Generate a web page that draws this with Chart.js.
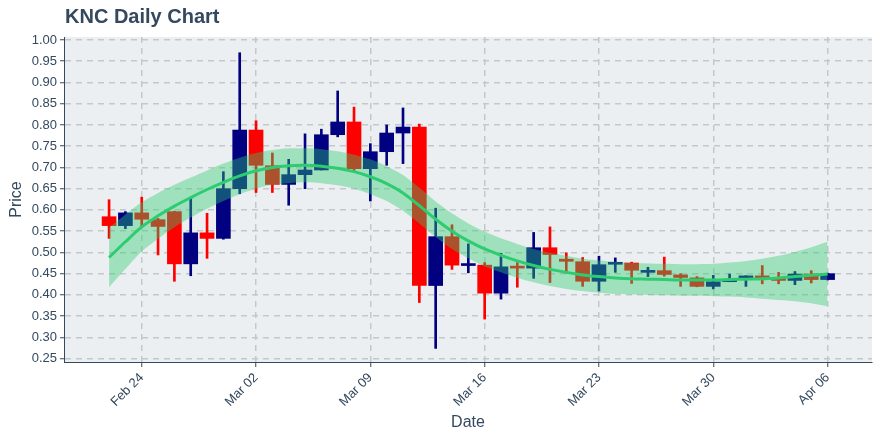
<!DOCTYPE html>
<html>
<head>
<meta charset="utf-8">
<script src="https://cdn.jsdelivr.net/npm/chart.js@4.4.1/dist/chart.umd.min.js"></script>
<style>
html,body{margin:0;padding:0;background:#fff;}
#wrap{width:880px;height:440px;}
</style>
</head>
<body>
<div id="wrap"><canvas id="c" width="880" height="440"></canvas></div>
<script>
const chartTitle = 'KNC Daily Chart';
const dates = ['2020-02-22','2020-02-23','2020-02-24','2020-02-25','2020-02-26','2020-02-27','2020-02-28','2020-02-29',
  '2020-03-01','2020-03-02','2020-03-03','2020-03-04','2020-03-05','2020-03-06','2020-03-07','2020-03-08','2020-03-09','2020-03-10',
  '2020-03-11','2020-03-12','2020-03-13','2020-03-14','2020-03-15','2020-03-16','2020-03-17','2020-03-18','2020-03-19','2020-03-20',
  '2020-03-21','2020-03-22','2020-03-23','2020-03-24','2020-03-25','2020-03-26','2020-03-27','2020-03-28','2020-03-29','2020-03-30',
  '2020-03-31','2020-04-01','2020-04-02','2020-04-03','2020-04-04','2020-04-05','2020-04-06'];
const openP  = [0.584,0.563,0.593,0.577,0.596,0.473,0.546,0.533,0.650,0.788,0.704,0.660,0.683,0.694,0.777,0.807,0.697,0.737,0.781,0.795,0.422,0.537,0.469,0.470,0.404,0.467,0.463,0.511,0.484,0.478,0.432,0.472,0.475,0.453,0.457,0.447,0.440,0.420,0.431,0.440,0.443,0.441,0.434,0.449,0.436];
const highP  = [0.624,0.596,0.630,0.580,0.597,0.628,0.592,0.690,0.970,0.810,0.734,0.719,0.779,0.790,0.880,0.842,0.756,0.800,0.840,0.802,0.604,0.565,0.520,0.476,0.498,0.476,0.547,0.560,0.499,0.488,0.491,0.487,0.477,0.465,0.489,0.450,0.443,0.446,0.449,0.445,0.469,0.453,0.455,0.457,0.451];
const lowP   = [0.533,0.556,0.559,0.494,0.432,0.445,0.486,0.531,0.638,0.641,0.641,0.611,0.650,0.694,0.772,0.690,0.621,0.705,0.709,0.382,0.274,0.460,0.452,0.343,0.390,0.418,0.439,0.429,0.451,0.420,0.409,0.453,0.427,0.443,0.444,0.420,0.419,0.414,0.431,0.420,0.426,0.426,0.424,0.428,0.435];
const closeP = [0.563,0.593,0.578,0.561,0.473,0.546,0.533,0.650,0.788,0.705,0.660,0.683,0.694,0.777,0.807,0.697,0.737,0.781,0.795,0.422,0.537,0.470,0.471,0.404,0.466,0.463,0.511,0.495,0.479,0.432,0.471,0.475,0.458,0.455,0.448,0.441,0.420,0.431,0.433,0.442,0.440,0.434,0.449,0.436,0.450];
const trend  = [0.488,0.525,0.560,0.586,0.609,0.629,0.648,0.665,0.680,0.692,0.700,0.704,0.705,0.703,0.698,0.690,0.678,0.662,0.640,0.610,0.578,0.550,0.527,0.508,0.493,0.480,0.469,0.460,0.453,0.447,0.443,0.440,0.438,0.437,0.436,0.435,0.435,0.435,0.436,0.437,0.438,0.440,0.443,0.446,0.449];
const bandUpper = [0.558,0.589,0.618,0.640,0.659,0.676,0.693,0.709,0.723,0.734,0.741,0.745,0.745,0.743,0.738,0.730,0.719,0.703,0.682,0.652,0.620,0.592,0.568,0.549,0.533,0.520,0.508,0.499,0.492,0.485,0.481,0.478,0.475,0.474,0.473,0.472,0.472,0.473,0.476,0.480,0.485,0.492,0.501,0.512,0.525];
const bandLower = [0.418,0.461,0.502,0.532,0.559,0.582,0.603,0.621,0.637,0.650,0.659,0.663,0.665,0.663,0.658,0.650,0.637,0.621,0.598,0.568,0.536,0.508,0.486,0.467,0.453,0.440,0.430,0.421,0.414,0.409,0.405,0.402,0.401,0.400,0.399,0.398,0.398,0.397,0.396,0.394,0.391,0.388,0.385,0.380,0.373];
const xTickDates  = ['2020-02-24','2020-03-02','2020-03-09','2020-03-16','2020-03-23','2020-03-30','2020-04-06'];
const xTickLabels = ['Feb 24','Mar 02','Mar 09','Mar 16','Mar 23','Mar 30','Apr 06'];
const yTicks = [0.25,0.30,0.35,0.40,0.45,0.50,0.55,0.60,0.65,0.70,0.75,0.80,0.85,0.90,0.95,1.00];

const textColor = '#34495e';
const gridColor = '#c5c8cb';
const fontFam = '"Liberation Sans", Arial, Helvetica, sans-serif';
const upColor = '#000080', downColor = '#ff0000';
const candleColors = openP.map((o,i) => closeP[i] >= o ? upColor : downColor);
const xTickPos = xTickDates.map(d => dates.indexOf(d));

const bgPlugin = {
  id: 'bg',
  beforeDraw(chart) {
    const {ctx, chartArea: a} = chart;
    ctx.save();
    ctx.fillStyle = '#ffffff';
    ctx.fillRect(0, 0, chart.width, chart.height);
    ctx.fillStyle = '#eceff1';
    ctx.fillRect(a.left, a.top, a.right - a.left, a.bottom - a.top);
    ctx.restore();
  }
};
const titlePlugin = {
  id: 'titleText',
  afterDraw(chart) {
    const ctx = chart.ctx;
    ctx.save();
    ctx.font = 'bold 20px ' + fontFam;
    ctx.fillStyle = textColor;
    ctx.textAlign = 'left';
    ctx.textBaseline = 'middle';
    ctx.fillText(chartTitle, 65, 17);
    ctx.restore();
  }
};

new Chart(document.getElementById('c'), {
  type: 'bar',
  data: {
    datasets: [
      { type: 'line', label: 'upper', data: bandUpper.map((v,i) => ({x: i, y: v})),
        borderColor: 'rgba(0,0,0,0)', borderWidth: 0, pointRadius: 0, tension: 0.3,
        fill: '+1', backgroundColor: 'rgba(46,204,113,0.4)', order: 1 },
      { type: 'line', label: 'lower', data: bandLower.map((v,i) => ({x: i, y: v})),
        borderColor: 'rgba(0,0,0,0)', borderWidth: 0, pointRadius: 0, tension: 0.3,
        fill: false, order: 1 },
      { type: 'line', label: 'trend', data: trend.map((v,i) => ({x: i, y: v})),
        borderColor: '#2ecc71', borderWidth: 3, pointRadius: 0, tension: 0.3, fill: false, order: 0 },
      { type: 'bar', label: 'wick', data: highP.map((h,i) => ({x: i, y: [lowP[i], h]})),
        backgroundColor: candleColors, barThickness: 2, grouped: false, borderWidth: 0, order: 3 },
      { type: 'bar', label: 'body', data: openP.map((o,i) => ({x: i, y: [o, closeP[i]]})),
        backgroundColor: candleColors, barThickness: 14, grouped: false, borderWidth: 0, minBarLength: 2, order: 2 }
    ]
  },
  options: {
    responsive: false,
    animation: false,
    events: [],
    layout: { padding: { top: 37, right: 8, left: 0, bottom: 0 } },
    plugins: { legend: { display: false }, tooltip: { enabled: false }, title: { display: false } },
    scales: {
      x: {
        type: 'linear', min: -2.76, max: 46.72, offset: false,
        afterBuildTicks: s => { s.ticks = xTickPos.map(v => ({value: v})); },
        afterFit: s => { s.height = 78; },
        ticks: {
          autoSkip: false, minRotation: 45, maxRotation: 45, padding: 3,
          color: textColor, font: { family: fontFam, size: 13 },
          callback: v => { const k = xTickPos.indexOf(v); return k >= 0 ? xTickLabels[k] : ''; }
        },
        grid: { offset: false, color: gridColor, lineWidth: 1.5, tickLength: 5, tickColor: textColor, tickWidth: 1, tickBorderDash: [] },
        border: { display: true, color: textColor, width: 1, dash: [6, 5] },
        title: { display: true, text: 'Date', color: textColor, font: { family: fontFam, size: 16 }, padding: { top: 4, bottom: 8 } }
      },
      y: {
        min: 0.242, max: 1.007,
        afterBuildTicks: s => { s.ticks = yTicks.map(v => ({value: v})); },
        afterFit: s => { s.width = 64; },
        ticks: { autoSkip: false, padding: 3, color: textColor, font: { family: fontFam, size: 13 },
          callback: v => Number(v).toFixed(2) },
        grid: { color: gridColor, lineWidth: 1.5, tickLength: 4, tickColor: textColor, tickWidth: 1, tickBorderDash: [] },
        border: { display: true, color: textColor, width: 1, dash: [6, 5] },
        title: { display: true, text: 'Price', color: textColor, font: { family: fontFam, size: 16 }, padding: { top: 7, bottom: 4 } }
      }
    }
  },
  plugins: [bgPlugin, titlePlugin]
});
</script>
</body>
</html>
